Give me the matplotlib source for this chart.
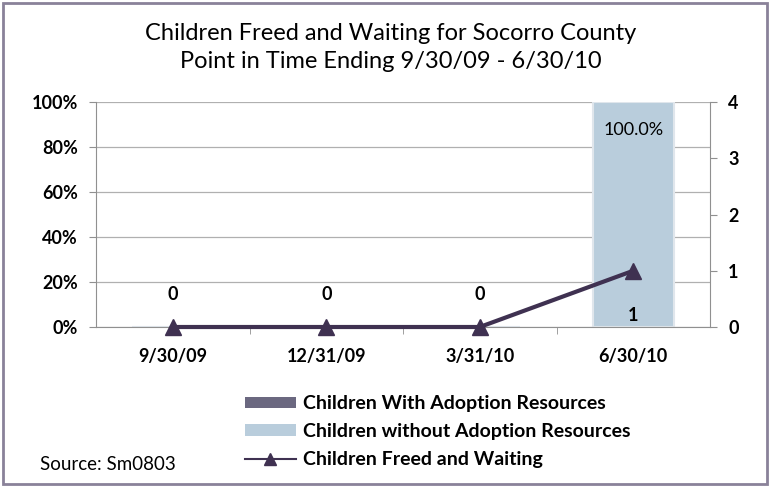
import matplotlib
matplotlib.use('Agg')
import matplotlib.pyplot as plt
import numpy as np
from matplotlib.patches import Rectangle, Patch
from matplotlib.lines import Line2D

plt.rcParams['font.family'] = ['Lato', 'DejaVu Sans']

categories = ['9/30/09', '12/31/09', '3/31/10', '6/30/10']
with_resources = [0.0, 0.0, 0.0, 0.0]        # share, %
without_resources = [0.0, 0.0, 0.0, 100.0]   # share, %
freed_waiting = [0, 0, 0, 1]                  # count, right axis

bar_dark = '#6B6880'
bar_light = '#B9CDDC'
line_col = '#3F3151'
tick_fs = 13

fig = plt.figure(figsize=(7.7, 4.87), dpi=100)
ax = fig.add_axes([96 / 770, 1 - 327 / 487, (710 - 96) / 770, (327 - 102) / 487])

x = np.arange(len(categories))
ax.bar(x, with_resources, width=0.53, color=bar_dark, zorder=2)
ax.bar(x, without_resources, width=0.53, bottom=with_resources, color=bar_light,
       edgecolor='#E0E6EC', linewidth=1.5, zorder=2)
ax.set_xlim(-0.5, len(categories) - 0.5)
ax.set_ylim(0, 100)
ax.set_yticks(np.arange(0, 101, 20))
ax.set_yticklabels([f'{v}%' for v in range(0, 101, 20)])
ax.yaxis.grid(True, color='#B0B0B0', linewidth=0.9, zorder=0)
ax.set_axisbelow(True)
ax.set_xticks(x)
ax.set_xticklabels(categories)
ax.set_xticks(np.arange(0.5, len(categories) - 0.5), minor=True)
ax.tick_params(axis='x', which='major', length=0, pad=15)
ax.tick_params(axis='x', which='minor', length=5, color='#909090')
ax.tick_params(axis='y', length=5, color='#909090', pad=8)
for s in ['top', 'right']:
    ax.spines[s].set_visible(False)
ax.spines['left'].set_color('#909090')
ax.spines['bottom'].set_color('#909090')
for lab in ax.get_xticklabels() + ax.get_yticklabels():
    lab.set_fontweight('bold')
    lab.set_fontsize(tick_fs)

for i, v in enumerate(without_resources):
    if v > 0:
        ax.text(i, v - 9, f'{v:.1f}%', ha='center', va='top', fontsize=tick_fs, zorder=4)

ax2 = ax.twinx()
ax2.set_ylim(0, 4)
ax2.set_yticks(range(0, 5))
ax2.plot(x, freed_waiting, color=line_col, linewidth=3, marker='^', markersize=12,
         zorder=5, clip_on=False)
for s in ['top', 'left', 'bottom']:
    ax2.spines[s].set_visible(False)
ax2.spines['right'].set_color('#909090')
ax2.tick_params(axis='y', length=5, color='#909090', pad=8)
for lab in ax2.get_yticklabels():
    lab.set_fontweight('bold')
    lab.set_fontsize(tick_fs)
for i, v in enumerate(freed_waiting):
    if v == 0:
        ax2.text(i, 0.57, str(v), ha='center', va='center', fontsize=tick_fs, fontweight='bold')
    else:
        ax2.text(i, 0.2, str(v), ha='center', va='center', fontsize=tick_fs, fontweight='bold')

fig.text(0.5 + 6 / 770, 1 - 33 / 487, 'Children Freed and Waiting for Socorro County',
         ha='center', va='center', fontsize=17)
fig.text(0.5 + 6 / 770, 1 - 62 / 487, 'Point in Time Ending 9/30/09 - 6/30/10',
         ha='center', va='center', fontsize=17)

handles = [Patch(facecolor=bar_dark), Patch(facecolor=bar_light),
           Line2D([0], [0], color=line_col, linewidth=1.5, marker='^', markersize=8)]
labels = ['Children With Adoption Resources', 'Children without Adoption Resources',
          'Children Freed and Waiting']
leg = fig.legend(handles, labels, loc='upper left', bbox_to_anchor=(245 / 770, 1 - 395 / 487),
                 frameon=False, prop={'weight': 'bold', 'size': 14}, handlelength=2.6,
                 handleheight=0.5, handletextpad=0.36, labelspacing=0.56,
                 borderpad=0, borderaxespad=0)

fig.text(40 / 770, 1 - 464 / 487, 'Source: Sm0803', ha='left', va='center', fontsize=13.5)

fig.patches.append(Rectangle((3 / 770, 3 / 487), 764 / 770, 481 / 487, transform=fig.transFigure,
                             fill=False, edgecolor='#8A8299', linewidth=2))

fig.savefig('out.png', dpi=100)
